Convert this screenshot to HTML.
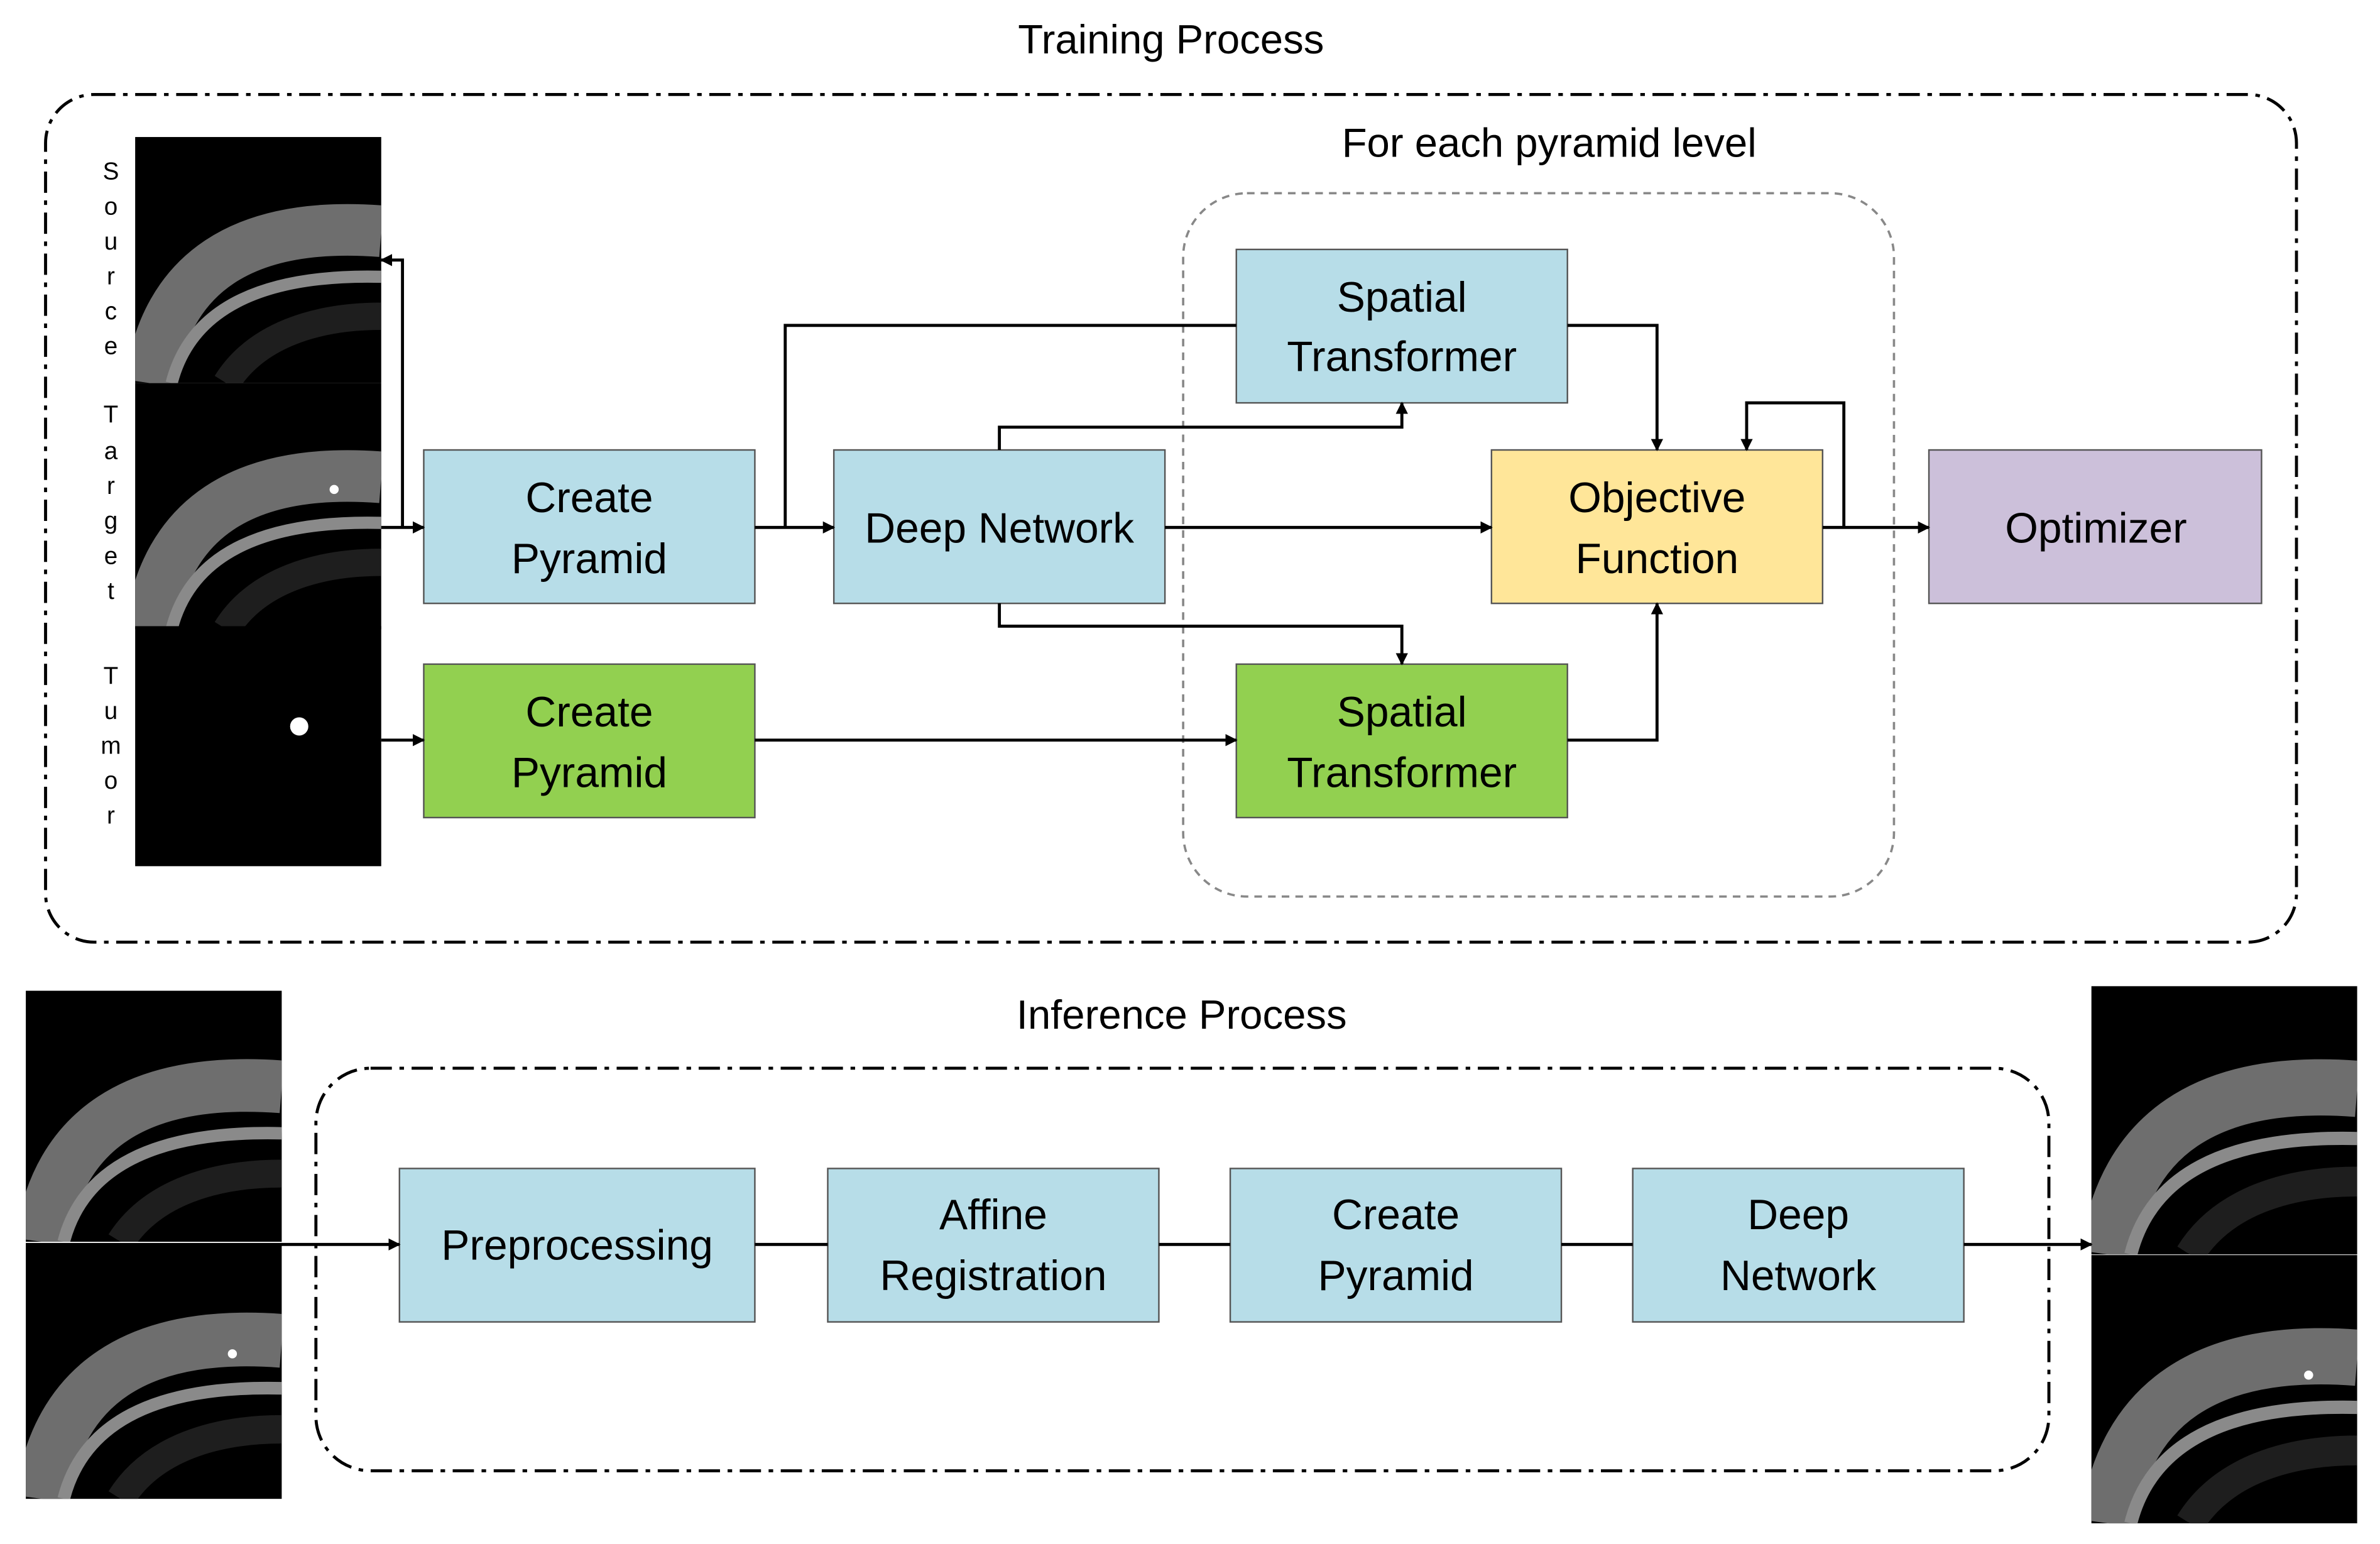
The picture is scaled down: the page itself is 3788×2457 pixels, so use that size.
<!DOCTYPE html>
<html><head><meta charset="utf-8"><style>html,body{margin:0;padding:0;background:#fff}svg{display:block}</style></head><body>
<svg width="3788" height="2457" viewBox="0 0 1567 1016" xmlns="http://www.w3.org/2000/svg" font-family="Liberation Sans, sans-serif">
<defs>
<marker id="a" viewBox="0 0 10 10" refX="9" refY="5" markerWidth="4" markerHeight="4" orient="auto"><path d="M0,0L10,5L0,10z" fill="#000"/></marker>
<clipPath id="c"><rect x="0" y="0" width="162" height="162"/></clipPath>
<g id="ct">
<rect x="0" y="0" width="162" height="162" fill="#000"/>
<g clip-path="url(#c)">
<path d="M10,162 C20,90 70,55 162,62" stroke="#6e6e6e" stroke-width="34" fill="none"/>
<path d="M24,162 C36,115 80,90 162,92" stroke="#8a8a8a" stroke-width="8" fill="none"/>
<path d="M60,162 C80,130 120,118 162,118" stroke="#1e1e1e" stroke-width="18" fill="none"/>
</g>
</g>
</defs>
<text x="771" y="35" font-size="27" text-anchor="middle">Training Process</text>
<rect x="30" y="62" width="1482" height="558" rx="32" fill="none" stroke="#000" stroke-width="2" stroke-dasharray="14,5,3,5"/>
<text x="1020" y="103" font-size="27" text-anchor="middle">For each pyramid level</text>
<rect x="779" y="127" width="468" height="463" rx="42" fill="none" stroke="#888" stroke-width="1.5" stroke-dasharray="5,4"/>
<use href="#ct" x="89" y="90"/>
<use href="#ct" x="89" y="252"/>
<circle cx="220" cy="322" r="3" fill="#fff"/>
<rect x="89" y="412" width="162" height="158" fill="#000"/>
<circle cx="197" cy="478" r="6" fill="#fff"/>
<g font-size="16" text-anchor="middle">
<text x="73" y="118">S</text><text x="73" y="141">o</text><text x="73" y="164">u</text><text x="73" y="187">r</text><text x="73" y="210">c</text><text x="73" y="233">e</text>
<text x="73" y="278">T</text><text x="73" y="302">a</text><text x="73" y="325">r</text><text x="73" y="348">g</text><text x="73" y="371">e</text><text x="73" y="394">t</text>
<text x="73" y="450">T</text><text x="73" y="473">u</text><text x="73" y="496">m</text><text x="73" y="519">o</text><text x="73" y="542">r</text>
</g>
<g stroke="#555" stroke-width="1">
<rect x="279" y="296" width="218" height="101" fill="#b7dde8"/>
<rect x="279" y="437" width="218" height="101" fill="#92d050"/>
<rect x="549" y="296" width="218" height="101" fill="#b7dde8"/>
<rect x="814" y="164" width="218" height="101" fill="#b7dde8"/>
<rect x="814" y="437" width="218" height="101" fill="#92d050"/>
<rect x="982" y="296" width="218" height="101" fill="#ffe699"/>
<rect x="1270" y="296" width="219" height="101" fill="#ccc0da"/>
</g>
<g font-size="28" text-anchor="middle">
<text x="388" y="337">Create</text><text x="388" y="377">Pyramid</text>
<text x="388" y="478">Create</text><text x="388" y="518">Pyramid</text>
<text x="658" y="357">Deep Network</text>
<text x="923" y="205">Spatial</text><text x="923" y="244">Transformer</text>
<text x="923" y="478">Spatial</text><text x="923" y="518">Transformer</text>
<text x="1091" y="337">Objective</text><text x="1091" y="377">Function</text>
<text x="1380" y="357">Optimizer</text>
</g>
<g stroke="#000" stroke-width="2" fill="none" marker-end="url(#a)">
<path d="M251,347H279"/>
<path d="M265,347V171H251"/>
<path d="M251,487H279"/>
<path d="M497,347H549"/>
<path d="M517,347V214H814" marker-end="none"/>
<path d="M658,296V281H923V265"/>
<path d="M658,397V412H923V437"/>
<path d="M767,347H982"/>
<path d="M1032,214H1091V296"/>
<path d="M497,487H814"/>
<path d="M1032,487H1091V397"/>
<path d="M1200,347H1270"/>
<path d="M1214,347V265H1150V296"/>
</g>
<text x="778" y="677" font-size="27" text-anchor="middle">Inference Process</text>
<rect x="208" y="703" width="1141" height="265" rx="36" fill="none" stroke="#000" stroke-width="2" stroke-dasharray="14,5,3,5"/>
<g transform="translate(17,652) scale(1.04,1.02)"><use href="#ct"/></g>
<g transform="translate(17,818) scale(1.04,1.04)"><use href="#ct"/></g>
<circle cx="153" cy="891" r="3" fill="#fff"/>
<g transform="translate(1377,649) scale(1.08,1.09)"><use href="#ct"/></g>
<g transform="translate(1377,826) scale(1.08,1.09)"><use href="#ct"/></g>
<circle cx="1520" cy="905" r="3" fill="#fff"/>
<g stroke="#555" stroke-width="1" fill="#b7dde8">
<rect x="263" y="769" width="234" height="101"/>
<rect x="545" y="769" width="218" height="101"/>
<rect x="810" y="769" width="218" height="101"/>
<rect x="1075" y="769" width="218" height="101"/>
</g>
<g font-size="28" text-anchor="middle">
<text x="380" y="829">Preprocessing</text>
<text x="654" y="809">Affine</text><text x="654" y="849">Registration</text>
<text x="919" y="809">Create</text><text x="919" y="849">Pyramid</text>
<text x="1184" y="809">Deep</text><text x="1184" y="849">Network</text>
</g>
<g stroke="#000" stroke-width="2" fill="none">
<path d="M185,819H263" marker-end="url(#a)"/>
<path d="M497,819H545M763,819H810M1028,819H1075"/>
<path d="M1293,819H1377" marker-end="url(#a)"/>
</g>
</svg>
</body></html>
